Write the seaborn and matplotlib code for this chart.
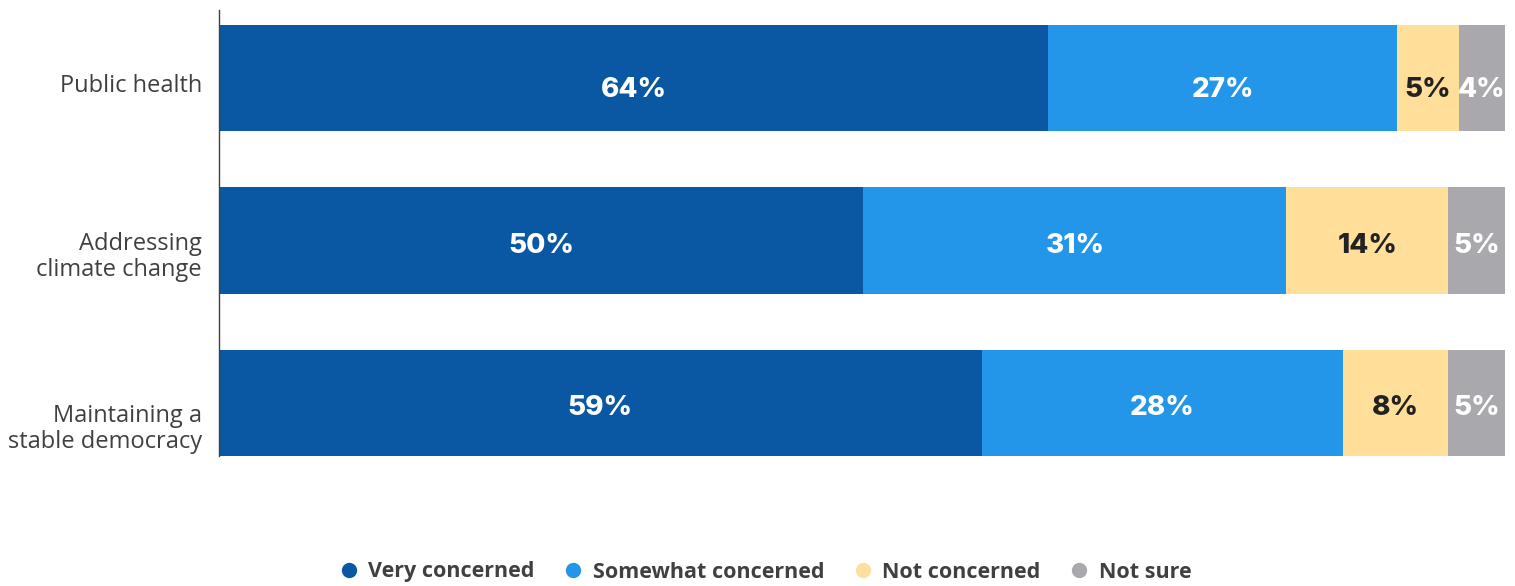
import numpy as np
import pandas as pd
import matplotlib
matplotlib.use("Agg")
import matplotlib.pyplot as plt
import seaborn as sns
from matplotlib.lines import Line2D

categories = ["Public health", "Addressing\nclimate change", "Maintaining a\nstable democracy"]
series = ["Very concerned", "Somewhat concerned", "Not concerned", "Not sure"]

# printed percentages
very = [64, 50, 59]
somewhat = [27, 31, 28]
not_concerned = [5, 14, 8]
not_sure = [4, 5, 5]

# segment lengths as drawn in the original (they don't quite match the printed numbers)
very_len = [64.5, 50.1, 59.3]
somewhat_len = [27.1, 32.9, 28.1]
not_concerned_len = [4.8, 12.6, 8.2]
not_sure_len = [3.6, 4.4, 4.4]

colors = ["#0A58A3", "#2396EA", "#FFDF99", "#A9A9AD"]
label_colors = ["white", "white", "#222222", "white"]

sns.set_style("white")
plt.rcParams["font.family"] = ["Open Sans", "DejaVu Sans"]

labels = np.array([very, somewhat, not_concerned, not_sure])
lens = np.array([very_len, somewhat_len, not_concerned_len, not_sure_len])
cum = lens.cumsum(axis=0)

fig = plt.figure(figsize=(15.15, 5.86), dpi=100)
ax = fig.add_axes([219 / 1515, 1 - 456 / 586, (1505 - 219) / 1515, (456 - 10) / 586])

# stacked bars: widest cumulative first, the rest on top
for i in range(len(series) - 1, -1, -1):
    df = pd.DataFrame({"cat": categories, "val": cum[i]})
    sns.barplot(data=df, x="val", y="cat", orient="h", color=colors[i],
                saturation=1, width=0.655, ax=ax, linewidth=0)

ax.set_xlim(0, 100)
ax.set_ylim(2.326, -0.42)

px = 1 / 162.5  # one pixel in y data units
val_dy = [12 * px, 5 * px, 5 * px]
for i in range(len(series)):
    for j in range(len(categories)):
        mid = cum[i][j] - lens[i][j] / 2
        ax.text(mid, j + val_dy[j], f"{labels[i][j]}%", ha="center", va="center",
                color=label_colors[i], fontsize=20, fontweight="heavy",
                family=["Inter", "DejaVu Sans"])

cat_dy = [8 * px, 16 * px, 26 * px]
for j, c in enumerate(categories):
    ax.text(-0.0132, j + cat_dy[j], c, transform=ax.get_yaxis_transform(),
            ha="right", va="center", multialignment="right", linespacing=1.1,
            fontsize=17, color="#404040")

ax.set_xlabel("")
ax.set_ylabel("")
ax.set_xticks([])
ax.set_yticks([])
for s in ["top", "right", "bottom"]:
    ax.spines[s].set_visible(False)
ax.spines["left"].set_color("#404040")
ax.spines["left"].set_linewidth(1)

handles = [Line2D([], [], marker="o", linestyle="", markersize=10,
                  markerfacecolor=c, markeredgecolor=c) for c in colors]
leg = fig.legend(handles, series, loc="center", bbox_to_anchor=(0.5055, 1 - 572 / 586),
                 ncol=4, frameon=False, handlelength=0.8, handletextpad=0.5,
                 columnspacing=1.4,
                 prop={"family": "Open Sans", "weight": "bold", "size": 15.5})
for t in leg.get_texts():
    t.set_color("#404040")

fig.savefig("out.png", dpi=100)
